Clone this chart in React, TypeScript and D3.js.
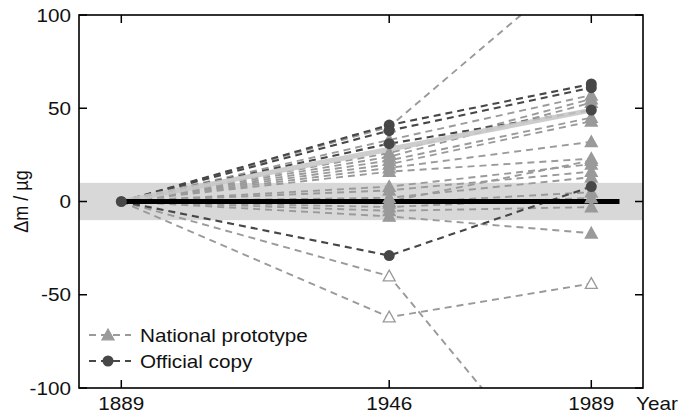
import React from 'react';
import * as d3 from 'd3';

// Years of the verifications
const years = [1889, 1946, 1989];

// National prototypes: mass change (µg) vs. the IPK at 1946 and 1989 (all 0 in 1889)
const national1946 = [40, 33, 26, 24, 22, 20, 18, 16, 8, 6, 2, 0, -1, -3, -5, -8, -40, -62];
const national1989 = [132, 57, 55, 53, 45, 43, 32, 23, 20, 16, 13, 22, 5, 2, -3, -17, -171, -44];
const nationalOpen = [false, false, false, false, false, false, false, false, false, false, false, false, false, false, false, false, true, true];

// Official copies
const official1946 = [41, 38, 31, -29];
const official1989 = [63, 61, 49, 8];

// mean trend (thick light grey line)
const meanTrend = [0, 28, 49];

const yTicks = [100, 50, 0, -50, -100];
const legendItems = ['National prototype', 'Official copy'];

const W = 682;
const H = 416;
const plot = { left: 79, right: 643, top: 15, bottom: 388 };

const x = d3.scaleLinear().domain([1880, 2000]).range([plot.left, plot.right]);
const y = d3.scaleLinear().domain([-100, 100]).range([plot.bottom, plot.top]);

const lineGen = d3.line<[number, number]>()
  .x(d => x(d[0]))
  .y(d => y(d[1]));

const LIGHT = '#9a9a9a';
const DARK = '#474747';
const FONT = '"Liberation Sans", Arial, Helvetica, sans-serif';
const SX = 1.15; // horizontal stretch of the original typesetting

function tri(cx: number, cy: number, s = 6) {
  return `M${cx},${cy - s} L${cx + s},${cy + s * 0.8} L${cx - s},${cy + s * 0.8} Z`;
}

function Txt({ x0, y0, anchor = 'start', size = 18, children }: any) {
  return (
    <text
      transform={`translate(${x0},${y0}) scale(${SX},1)`}
      textAnchor={anchor}
      fontSize={size}
      fontFamily={FONT}
      fill="#111"
    >
      {children}
    </text>
  );
}

export default function App() {
  const national = national1946.map((v, i) => [[years[0], 0], [years[1], v], [years[2], national1989[i]]] as [number, number][]);
  const official = official1946.map((v, i) => [[years[0], 0], [years[1], v], [years[2], official1989[i]]] as [number, number][]);
  const mean = years.map((yr, i) => [yr, meanTrend[i]] as [number, number]);
  const tickLen = 8;

  return (
    <svg width={W} height={H} style={{ position: 'absolute', left: 0, top: 0, background: '#fff' }}>
      <defs>
        <clipPath id="plotClip">
          <rect x={plot.left} y={plot.top} width={plot.right - plot.left} height={plot.bottom - plot.top} />
        </clipPath>
      </defs>

      <g clipPath="url(#plotClip)">
        {/* uncertainty band */}
        <rect x={plot.left} y={y(10)} width={plot.right - plot.left} height={y(-10) - y(10)} fill="#d8d8d8" />

        {national.map((pts, i) => (
          <path key={'n' + i} d={lineGen(pts) || ''} fill="none" stroke={LIGHT} strokeWidth={1.9} strokeDasharray="7,5" />
        ))}
        {official.map((pts, i) => (
          <path key={'o' + i} d={lineGen(pts) || ''} fill="none" stroke={DARK} strokeWidth={2.1} strokeDasharray="7,5" />
        ))}

        <path d={lineGen(mean) || ''} fill="none" stroke="#c8c8c8" strokeWidth={5} opacity={0.9} />

        {/* IPK reference */}
        <line x1={x(1889)} x2={x(1995)} y1={y(0)} y2={y(0)} stroke="#000" strokeWidth={5} />

        {national.map((pts, i) =>
          pts.slice(1).map((p, j) => (
            <path
              key={`nm${i}-${j}`}
              d={tri(x(p[0]), y(p[1]))}
              fill={nationalOpen[i] ? '#fff' : LIGHT}
              stroke={LIGHT}
              strokeWidth={1.3}
            />
          ))
        )}
        {official.map((pts, i) =>
          pts.slice(1).map((p, j) => (
            <circle key={`om${i}-${j}`} cx={x(p[0])} cy={y(p[1])} r={5.5} fill={DARK} />
          ))
        )}
        <circle cx={x(1889)} cy={y(0)} r={5.5} fill={DARK} />
      </g>

      {/* frame */}
      <rect x={plot.left} y={plot.top} width={plot.right - plot.left} height={plot.bottom - plot.top} fill="none" stroke="#000" strokeWidth={1.6} />

      {/* y ticks */}
      {yTicks.map(t => (
        <g key={'yt' + t}>
          <line x1={plot.left} x2={plot.left + tickLen} y1={y(t)} y2={y(t)} stroke="#000" strokeWidth={1.5} />
          <line x1={plot.right} x2={plot.right - tickLen} y1={y(t)} y2={y(t)} stroke="#000" strokeWidth={1.5} />
          <Txt x0={plot.left - 8} y0={y(t) + 6.5} anchor="end">{t}</Txt>
        </g>
      ))}

      {/* x ticks */}
      {years.map(yr => (
        <g key={'xt' + yr}>
          <line x1={x(yr)} x2={x(yr)} y1={plot.bottom} y2={plot.bottom - tickLen} stroke="#000" strokeWidth={1.5} />
          <line x1={x(yr)} x2={x(yr)} y1={plot.top} y2={plot.top + tickLen} stroke="#000" strokeWidth={1.5} />
          <Txt x0={x(yr)} y0={410} anchor="middle">{yr}</Txt>
        </g>
      ))}
      <Txt x0={636} y0={410}>Year</Txt>

      {/* y axis label */}
      <text
        transform={`translate(28,${y(0)}) rotate(-90) scale(1,${SX})`}
        textAnchor="middle"
        fontSize={18}
        fontFamily={FONT}
        fill="#111"
      >
        Δm / µg
      </text>

      {/* legend */}
      {legendItems.map((name, i) => {
        const ly = 335 + i * 26;
        return (
          <g key={name}>
            <line x1={88} x2={131} y1={ly} y2={ly} stroke={i === 0 ? LIGHT : DARK} strokeWidth={1.9} strokeDasharray="7,5" strokeDashoffset={-1} />
            {i === 0
              ? <path d={tri(108, ly)} fill={LIGHT} stroke={LIGHT} strokeWidth={1.3} />
              : <circle cx={108} cy={ly} r={5.5} fill={DARK} />}
            <Txt x0={140} y0={ly + 6.5}>{name}</Txt>
          </g>
        );
      })}
    </svg>
  );
}
